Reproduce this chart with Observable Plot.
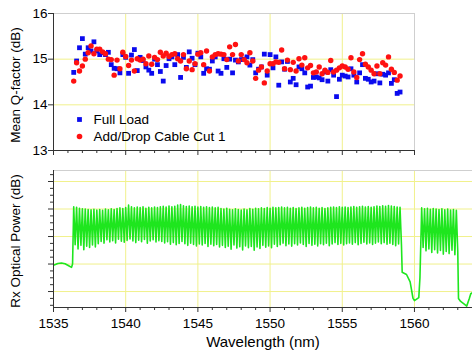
<!DOCTYPE html>
<html>
<head>
<meta charset="utf-8">
<script src="https://cdn.jsdelivr.net/npm/d3@7"></script>
<script src="https://cdn.jsdelivr.net/npm/@observablehq/plot@0.6"></script>
<style>
  html, body { margin: 0; padding: 0; background: #fff; }
  #chart { position: relative; width: 472px; height: 352px; overflow: hidden; font-family: "Liberation Sans", Arial, sans-serif; }
  #top, #bottom { position: absolute; left: 0; }
  #top { top: 0; }
  #bottom { top: 160px; }
</style>
</head>
<body>
<div id="chart"><div id="top"></div><div id="bottom"></div></div>
<script>
// ---------- data ----------
const channels = [
1536.4,1536.6,1536.8,1537.0,1537.2,1537.4,1537.6,1537.8,1538.0,1538.2,
1538.4,1538.6,1538.8,1539.0,1539.2,1539.4,1539.6,1539.8,1540.0,1540.2,
1540.4,1540.6,1540.8,1541.0,1541.2,1541.4,1541.6,1541.8,1542.0,1542.2,
1542.4,1542.6,1542.8,1543.0,1543.2,1543.4,1543.6,1543.8,1544.0,1544.2,
1544.4,1544.6,1544.8,1545.0,1545.2,1545.4,1545.6,1545.8,1546.0,1546.2,
1546.4,1546.6,1546.8,1547.0,1547.2,1547.4,1547.6,1547.8,1548.0,1548.2,
1548.4,1548.6,1548.8,1549.0,1549.2,1549.4,1549.6,1549.8,1550.0,1550.2,
1550.4,1550.6,1550.8,1551.0,1551.2,1551.4,1551.6,1551.8,1552.0,1552.2,
1552.4,1552.6,1552.8,1553.0,1553.2,1553.4,1553.6,1553.8,1554.0,1554.2,
1554.4,1554.6,1554.8,1555.0,1555.2,1555.4,1555.6,1555.8,1556.0,1556.2,
1556.4,1556.6,1556.8,1557.0,1557.2,1557.4,1557.6,1557.8,1558.0,1558.2,
1558.4,1558.6,1558.8,1559.0];

const qFullLoad = [
14.71,14.96,15.25,15.45,15.11,15.25,15.18,15.38,15.18,15.10,
15.14,15.10,15.15,14.88,14.80,14.79,14.70,15.10,15.04,14.69,
15.09,15.21,14.75,15.04,14.97,14.83,14.76,14.69,15.00,14.88,
14.73,14.52,14.86,15.01,15.05,14.88,15.10,14.60,15.04,14.82,
15.16,15.02,14.88,15.13,15.05,14.69,14.79,14.78,14.96,15.05,
14.74,14.69,15.01,14.82,15.00,14.70,14.98,14.94,14.99,15.00,
15.05,14.87,14.99,14.70,14.78,14.83,15.11,14.65,15.10,14.81,
15.05,14.43,14.94,14.78,14.95,14.50,14.58,14.44,14.83,14.79,
14.70,14.39,14.41,14.60,14.61,14.59,14.55,14.72,14.52,14.77,
14.65,14.18,14.56,14.65,14.63,14.61,14.79,14.65,14.50,14.70,
14.88,14.58,14.56,14.50,14.52,14.68,14.48,14.67,14.65,14.70,
14.47,14.55,14.25,14.28];

const qAddDrop = [
14.52,14.92,14.74,14.85,15.00,15.14,15.29,15.12,15.22,15.22,
15.16,15.12,15.00,14.99,14.65,14.98,14.79,15.15,15.06,14.86,
14.98,14.74,15.01,14.98,15.00,14.90,15.07,14.89,15.04,14.99,
15.15,15.07,15.13,15.06,15.10,15.12,15.01,14.96,15.10,14.79,
14.96,14.77,14.90,15.11,15.14,14.88,15.18,14.74,15.05,15.10,
15.12,15.11,15.10,14.99,15.27,15.10,15.32,14.96,15.10,14.99,
14.92,15.14,14.96,14.58,14.76,14.83,14.48,14.74,14.90,14.90,
14.94,14.93,15.20,14.79,14.98,14.77,14.93,14.74,15.01,14.87,
15.03,14.81,14.86,14.70,14.72,14.83,14.68,14.76,14.71,14.97,
14.72,14.76,14.81,14.85,14.83,14.78,15.03,14.72,14.60,14.99,
15.12,14.89,14.83,14.76,14.68,14.85,14.68,14.92,14.87,15.05,
14.78,14.71,14.54,14.63];

// Rx spectrum: channel peaks and inter-channel troughs (dB)
const peaks1 = [
-19.2,-19.4,-19.7,-19.9,-20.0,-20.2,-20.3,-20.1,-20.4,
-20.2,-20.5,-20.0,-20.3,-19.9,-20.2,-19.8,-19.6,-19.8,
-19.5,-18.6,-19.2,-19.6,-19.3,-19.5,-19.2,-19.7,-19.4,-19.6,-19.3,-19.5,-19.2,
-19.0,-19.3,-18.9,-19.2,-19.0,-18.6,-18.4,-18.8,-19.1,-18.9,-19.2,-19.0,-19.3,-19.1,-19.4,-19.2,-19.5,-19.3,-19.6,-19.4,
-19.8,-20.0,-19.7,-20.1,-20.3,-19.9,-20.2,-20.4,-20.0,-20.3,-19.8,-20.1,-19.7,-19.9,-19.6,-19.8,-19.5,-19.7,-19.4,-19.6,
-19.5,-19.3,-19.6,-19.4,-19.7,-19.5,-19.8,-19.6,-19.4,-19.7,-19.5,-19.3,-19.6,-19.4,-19.7,-19.5,-19.8,-19.6,-19.4,-19.3,-19.5,-19.2,-19.4,-19.3,-19.5,
-19.3,-19.1,-19.4,-19.2,-19.0,-19.3,-19.1,-19.4,-19.2,-18.9,-19.1,-18.8,-19.0,-18.7,-18.9,-19.1,-19.3,-19.4];
const troughs1 = [
-33.0,-34.5,-33.2,-34.8,-33.5,-34.0,-33.1,-33.8,-32.6,
-31.8,-32.4,-31.2,-32.0,-31.5,-32.3,-31.0,-31.7,-32.1,
-31.4,-30.9,-31.6,-32.2,-31.3,-31.9,-31.1,-32.4,-31.6,-31.2,-32.0,-31.5,-31.8,
-32.3,-31.9,-32.8,-32.2,-33.0,-32.5,-31.8,-32.6,-33.2,-32.4,-32.9,-33.4,-32.7,-33.1,-32.5,-33.6,-32.8,-33.3,-32.9,-33.8,
-33.2,-34.0,-33.5,-34.6,-33.1,-34.2,-33.7,-34.9,-33.4,-34.1,-33.6,-35.0,-33.8,-34.3,-33.2,-33.9,-33.4,-34.1,-32.8,-33.6,
-33.0,-32.4,-33.3,-32.7,-33.5,-32.6,-33.1,-32.3,-32.9,-33.6,-32.5,-33.2,-32.8,-33.4,-32.6,-33.0,-32.4,-33.3,-32.7,-32.2,-32.9,-32.5,-33.1,-32.6,-32.3,
-32.8,-32.2,-33.0,-32.5,-32.1,-32.7,-32.3,-32.9,-32.4,-32.0,-32.6,-32.2,-32.8,-32.4,-32.9,-33.3,-32.7,-33.1];
const channels2 = [1560.5,1560.7,1560.9,1561.1,1561.3,1561.5,1561.7,1561.9,1562.1,1562.3,1562.5,1562.7,1562.9];
const peaks2 = [-19.6,-19.9,-19.7,-20.1,-19.8,-20.0,-20.2,-19.9,-20.3,-20.0,-20.4,-20.2,-20.5];
const troughs2 = [-34.0,-35.2,-34.5,-35.8,-34.8,-36.0,-35.1,-36.4,-35.4,-36.2,-35.0,-36.6,-35.5];
// un-loaded parts of the spectrum
const edgeLeftX  = [1535.0,1535.3,1535.55,1535.8,1536.05,1536.25,1536.32];
const edgeLeftY  = [-40.4,-39.8,-39.6,-39.9,-40.6,-41.2,-40.0];
const gapX = [1559.15,1559.45,1559.7,1559.9,1560.0,1560.3,1560.38];
const gapY = [-43.0,-43.8,-46.5,-52.5,-53.3,-52.2,-45.0];
const edgeRightX = [1563.05,1563.2,1563.45,1563.62,1563.8,1563.9,1564.02];
const edgeRightY = [-52.5,-53.6,-54.6,-55.3,-52.5,-50.8,-50.4];

// ticks
const xMajor = [1535,1540,1545,1550,1555,1560];
const xMinor = [1536,1537,1538,1539,1541,1542,1543,1544,1546,1547,1548,1549,1551,1552,1553,1554,1556,1557,1558,1559,1561,1562,1563];
const xGrid = [1540,1545,1550,1555,1560];
const qTicks = [13,14,15,16];
const qGrid = [14,15];
const rxMajor = [-50,-40,-30,-20,-10];
const rxMinor = [-55,-52.5,-47.5,-45,-42.5,-37.5,-35,-32.5,-27.5,-25,-22.5,-17.5,-15,-12.5,-7.5];
const topX = [1535,1560];
const topY = [13,16];
const botX = [1535,1564.02];
const botY = [-55.8,-6];
const series = ["Full Load","Add/Drop Cable Cut 1"];

// ---------- styles ----------
const BLUE = "#0a0aee", RED = "#ff1111", GREEN = "#1ee61e";
const GRID = "#f1f18c", AXIS = "#333", BORDER = "#cfcfcf";
const FONT = "'Liberation Sans', Arial, sans-serif";

const qData = channels.map((c, i) => ({wl: c, full: qFullLoad[i], add: qAddDrop[i]}));

const spectrum = [];
edgeLeftX.forEach((x, i) => spectrum.push({wl: x, p: edgeLeftY[i]}));
channels.forEach((c, i) => { spectrum.push({wl: c, p: peaks1[i]}); spectrum.push({wl: +(c + 0.1).toFixed(2), p: troughs1[i]}); });
gapX.forEach((x, i) => spectrum.push({wl: x, p: gapY[i]}));
channels2.forEach((c, i) => { spectrum.push({wl: c, p: peaks2[i]}); spectrum.push({wl: +(c + 0.1).toFixed(2), p: troughs2[i]}); });
edgeRightX.forEach((x, i) => spectrum.push({wl: x, p: edgeRightY[i]}));

const inTop = v => v >= topX[0] && v <= topX[1];

const topPlot = Plot.plot({
  width: 415, height: 160,
  marginLeft: 53, marginRight: 1, marginTop: 13, marginBottom: 10,
  x: {domain: topX, axis: null},
  y: {domain: topY, axis: null},
  style: {fontFamily: FONT, fontSize: "13.5px", color: "#000", background: "transparent", overflow: "visible"},
  marks: [
    Plot.gridX(xGrid.filter(inTop), {stroke: GRID, strokeOpacity: 1}),
    Plot.gridY(qGrid, {stroke: GRID, strokeOpacity: 1}),
    Plot.frame({stroke: BORDER}),
    Plot.dot(qData, {x: "wl", y: "full", symbol: "square", r: 2.7, fill: BLUE, stroke: "none"}),
    Plot.dot(qData, {x: "wl", y: "add", symbol: "circle", r: 2.7, fill: RED, stroke: "none"}),
    Plot.ruleX([topX[0]], {stroke: AXIS}),
    Plot.ruleY([topY[0]], {stroke: AXIS}),
    Plot.axisX(xMinor.filter(inTop), {tickSize: 3, fill: "none", stroke: AXIS, label: null}),
    Plot.axisX(xMajor.filter(inTop), {tickSize: 5, fill: "none", stroke: AXIS, label: null}),
    Plot.axisY(qTicks, {tickSize: 5, tickPadding: 1, stroke: AXIS, fill: "#000", fontSize: 13.5, label: null}),
    Plot.text(["Mean Q-factor (dB)"], {text: d => d, frameAnchor: "left", textAnchor: "middle", lineAnchor: "middle", dx: -38, dy: 3, rotate: -90, fontSize: 13.5, fill: "#000"}),
    Plot.dot([series[0]], {frameAnchor: "bottom-left", dx: 26, dy: -31, symbol: "square", r: 2.7, fill: BLUE}),
    Plot.dot([series[1]], {frameAnchor: "bottom-left", dx: 26, dy: -14, symbol: "circle", r: 2.8, fill: RED}),
    Plot.text([series[0]], {text: d => d, frameAnchor: "bottom-left", lineAnchor: "middle", dx: 40, dy: -31, textAnchor: "start", fontSize: 13.5, fill: "#000"}),
    Plot.text([series[1]], {text: d => d, frameAnchor: "bottom-left", lineAnchor: "middle", dx: 40, dy: -14, textAnchor: "start", fontSize: 13.5, fill: "#000"})
  ]
});
document.getElementById("top").append(topPlot);

const bottomPlot = Plot.plot({
  width: 472, height: 192,
  marginLeft: 53, marginRight: 0, marginTop: 10, marginBottom: 45,
  x: {domain: botX, axis: null},
  y: {domain: botY, axis: null},
  style: {fontFamily: FONT, fontSize: "13.5px", color: "#000", background: "transparent", overflow: "visible"},
  marks: [
    Plot.gridX(xGrid, {stroke: GRID, strokeOpacity: 1}),
    Plot.gridY(rxMajor, {stroke: GRID, strokeOpacity: 1}),
    Plot.ruleY([botY[1]], {stroke: BORDER}),
    Plot.line(spectrum, {x: "wl", y: "p", stroke: GREEN, strokeWidth: 1.6, clip: true}),
    Plot.ruleX([botX[0]], {stroke: AXIS}),
    Plot.ruleY([botY[0]], {stroke: AXIS}),
    Plot.axisX(xMinor, {tickSize: 3, fill: "none", stroke: AXIS, label: null}),
    Plot.axisX(xMajor, {tickSize: 5, tickPadding: 6, stroke: AXIS, fill: "#000", fontSize: 13.5, tickFormat: d => String(d), label: null}),
    Plot.axisY(rxMinor, {tickSize: 3, fill: "none", stroke: AXIS, label: null}),
    Plot.axisY(rxMajor, {tickSize: 5, fill: "none", stroke: AXIS, label: null}),
    Plot.text(["Rx Optical Power (dB)"], {text: d => d, frameAnchor: "left", textAnchor: "middle", lineAnchor: "middle", dx: -38, dy: 2, rotate: -90, fontSize: 13.5, fill: "#000"}),
    Plot.text(["Wavelength (nm)"], {text: d => d, frameAnchor: "bottom", textAnchor: "middle", lineAnchor: "middle", dy: 35, fontSize: 15, fill: "#000"})
  ]
});
document.getElementById("bottom").append(bottomPlot);
</script>
</body>
</html>
